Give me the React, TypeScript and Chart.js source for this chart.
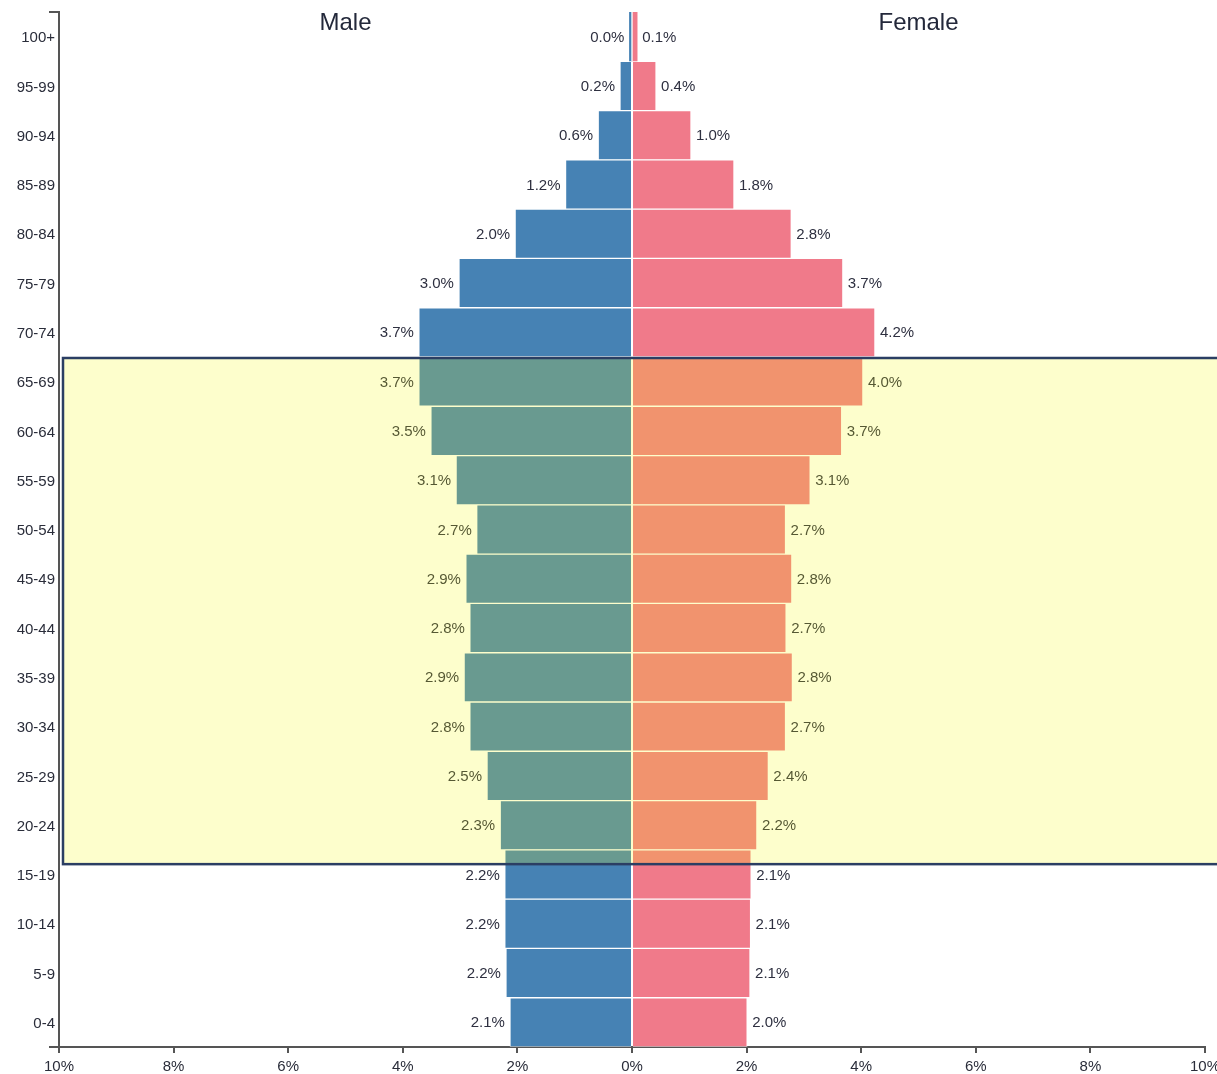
import React, { useEffect, useRef } from "react";
import { Chart, registerables } from "chart.js";

Chart.register(...registerables);

const ageGroups = ["100+", "95-99", "90-94", "85-89", "80-84", "75-79", "70-74", "65-69", "60-64", "55-59", "50-54", "45-49", "40-44", "35-39", "30-34", "25-29", "20-24", "15-19", "10-14", "5-9", "0-4"];
const malePct = [0.045, 0.21, 0.59, 1.16, 2.04, 3.02, 3.72, 3.72, 3.51, 3.07, 2.71, 2.9, 2.83, 2.93, 2.83, 2.53, 2.3, 2.22, 2.22, 2.2, 2.13];
const femalePct = [0.09, 0.42, 1.03, 1.78, 2.78, 3.68, 4.24, 4.03, 3.66, 3.11, 2.68, 2.79, 2.69, 2.8, 2.68, 2.38, 2.18, 2.08, 2.07, 2.06, 2.01];
const xTicks = [-10, -8, -6, -4, -2, 0, 2, 4, 6, 8, 10];
const highlightTop = "65-69";
const highlightBottom = "20-24";
const FONT = "'Liberation Sans', Arial, sans-serif";

const overlayPlugin = {
  id: "pyramidExtras",
  afterDatasetsDraw(chart: any) {
    const ctx = chart.ctx;
    ctx.save();
    ctx.font = `15px ${FONT}`;
    ctx.fillStyle = "#2e3040";
    ctx.textBaseline = "middle";
    chart.data.datasets.forEach((ds: any, di: number) => {
      const meta = chart.getDatasetMeta(di);
      meta.data.forEach((bar: any, i: number) => {
        const v = ds.data[i];
        const txt = Math.abs(v).toFixed(1) + "%";
        if (v < 0) {
          ctx.textAlign = "right";
          ctx.fillText(txt, bar.x - 5, bar.y + 1);
        } else {
          ctx.textAlign = "left";
          ctx.fillText(txt, bar.x + 5, bar.y + 1);
        }
      });
    });
    ctx.restore();
  },
  afterDraw(chart: any) {
    const ctx = chart.ctx;
    const x = chart.scales.x;
    const y = chart.scales.y;
    const area = chart.chartArea;
    ctx.save();
    // y-axis category labels
    ctx.font = `15px ${FONT}`;
    ctx.fillStyle = "#2a2d3a";
    ctx.textAlign = "right";
    ctx.textBaseline = "middle";
    ageGroups.forEach((g, i) => {
      ctx.fillText(g, area.left - 4, y.getPixelForValue(i) + 1.5);
    });
    // titles
    ctx.font = `24px ${FONT}`;
    ctx.fillStyle = "#23283a";
    ctx.textAlign = "center";
    ctx.fillText("Male", x.getPixelForValue(-5), area.top + 11);
    ctx.fillText("Female", x.getPixelForValue(5), area.top + 11);
    // outer ticks of y axis
    ctx.strokeStyle = "#555";
    ctx.lineWidth = 2;
    ctx.beginPath();
    ctx.moveTo(area.left - 10, area.top);
    ctx.lineTo(area.left, area.top);
    ctx.moveTo(area.left - 10, area.bottom);
    ctx.lineTo(area.left, area.bottom);
    ctx.stroke();
    // highlight box
    const band = Math.abs(y.getPixelForValue(1) - y.getPixelForValue(0));
    const topIdx = ageGroups.indexOf(highlightTop);
    const botIdx = ageGroups.indexOf(highlightBottom);
    const top = y.getPixelForValue(topIdx) - band / 2 + 1;
    const bottom = y.getPixelForValue(botIdx) + band * 0.79;
    const left = area.left + 4;
    const right = chart.width + 10;
    ctx.fillStyle = "rgba(245,250,0,0.2)";
    ctx.fillRect(left, top, right - left, bottom - top);
    ctx.strokeStyle = "#2b3e63";
    ctx.lineWidth = 2.5;
    ctx.strokeRect(left, top, right - left, bottom - top);
    ctx.restore();
  },
};

const borderFor = (c: any) => (Math.abs(c.raw ?? 0) < 0.15 ? 0 : 1);

export default function App() {
  const ref = useRef<HTMLCanvasElement | null>(null);
  useEffect(() => {
    if (!ref.current) return;
    const chart = new Chart(ref.current, {
      type: "bar",
      data: {
        labels: ageGroups,
        datasets: [
          {
            label: "Male",
            data: malePct.map((v) => -v),
            backgroundColor: "#4682b4",
            borderColor: "rgba(255,255,255,0.55)",
            borderWidth: borderFor,
            barPercentage: 1,
            categoryPercentage: 1,
          },
          {
            label: "Female",
            data: femalePct,
            backgroundColor: "#f07a8a",
            borderColor: "rgba(255,255,255,0.55)",
            borderWidth: borderFor,
            barPercentage: 1,
            categoryPercentage: 1,
          },
        ],
      },
      options: {
        indexAxis: "y",
        responsive: false,
        animation: false,
        layout: { padding: { left: 0, right: 12, top: 12, bottom: 0 } },
        plugins: { legend: { display: false }, tooltip: { enabled: false } },
        scales: {
          x: {
            type: "linear",
            stacked: true,
            min: -10,
            max: 10,
            afterBuildTicks: (scale: any) => {
              scale.ticks = xTicks.map((v) => ({ value: v }));
            },
            afterFit: (scale: any) => {
              scale.height = 27;
              scale.paddingLeft = 0;
              scale.paddingRight = 0;
            },
            grid: {
              display: true,
              drawOnChartArea: false,
              drawTicks: true,
              tickLength: 6,
              color: "#555",
              lineWidth: 2,
            },
            border: { display: true, color: "#555", width: 2 },
            ticks: {
              color: "#2a2d3a",
              font: { family: FONT, size: 15 },
              padding: 5,
              maxRotation: 0,
              autoSkip: false,
              callback: (v: any) => Math.abs(Number(v)) + "%",
            },
          },
          y: {
            type: "category",
            stacked: true,
            afterFit: (scale: any) => {
              scale.width = 59;
              scale.paddingTop = 0;
              scale.paddingBottom = 0;
            },
            grid: { display: false, drawTicks: false },
            border: { display: true, color: "#555", width: 2 },
            ticks: { display: false, autoSkip: false },
          },
        },
      },
      plugins: [overlayPlugin],
    } as any);
    return () => chart.destroy();
  }, []);
  return (
    <div style={{ position: "absolute", left: 0, top: 0, width: 1217, height: 1074, background: "#fff" }}>
      <canvas ref={ref} width={1217} height={1074} style={{ width: 1217, height: 1074, display: "block" }} />
    </div>
  );
}
